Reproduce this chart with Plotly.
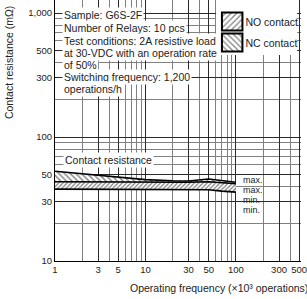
import math
import plotly.graph_objects as go

# ---------------- data ----------------
ops = [1, 2, 3, 5, 10, 20, 30, 50, 70, 100]          # x10^3 operations
nc_max = [53, 50.5, 49, 47.2, 45.3, 44.4, 44.2, 45.8, 44.5, 43.2]
nc_min = [43.2, 43.1, 43.0, 42.9, 42.8, 42.7, 42.7, 43.2, 42.3, 41.8]
no_max = [43.6, 43.5, 43.4, 43.3, 43.2, 43.1, 43.1, 43.6, 42.6, 42.0]
no_min = [38.0, 37.9, 37.8, 37.7, 37.5, 37.4, 37.4, 37.6, 36.6, 35.9]

legend_labels = ["NO contact", "NC contact"]
legend_shapes = ["/", "\\"]
legend_vals = [1, 1]

x_major = [1, 3, 5, 10, 30, 50, 100, 300, 500]
x_major_text = ["1", "3", "5", "10", "30", "50", "100", "300", "500"]
x_minor = [2, 4, 6, 7, 8, 9, 20, 40, 60, 70, 80, 90, 200, 400]
y_major = [10, 30, 50, 100, 300, 500, 1000]
y_major_text = ["10", "30", "50", "100", "300", "500", "1,000"]
y_minor = [20, 40, 60, 70, 80, 90, 200, 400, 600, 700, 800, 900]

info_lines = [
    "Sample: G6S-2F",
    "Number of Relays: 10 pcs",
    "Test conditions: 2A resistive load",
    "at 30-VDC with an operation rate",
    "of 50%",
    "Switching frequency: 1,200",
    "operations/h",
]
edge_labels = ["max.", "max.", "min.", "min."]

# ---------------- layout helpers ----------------
W, H = 307, 299
ML, MB = 55, 38
PW, PH = W - ML, H - MB


def px(x):
    return (x - ML) / PW


def py(y):
    return (PH - y) / PH


FONT = "Liberation Sans, Arial, sans-serif"
TXT = "#222"

fig = go.Figure()

pat_nc = dict(shape="\\", fgcolor="black", bgcolor="white", size=4, solidity=0.35)
pat_no = dict(shape="/", fgcolor="black", bgcolor="white", size=3, solidity=0.4)
line = dict(color="black", width=1.6)

fig.add_trace(go.Scatter(x=ops, y=nc_min, mode="lines", line=line, showlegend=False))
fig.add_trace(go.Scatter(x=ops, y=nc_max, mode="lines", line=line, fill="tonexty",
                         fillpattern=pat_nc, fillcolor="white", showlegend=False))
fig.add_trace(go.Scatter(x=ops, y=no_min, mode="lines", line=line, showlegend=False))
fig.add_trace(go.Scatter(x=ops, y=no_max, mode="lines", line=line, fill="tonexty",
                         fillpattern=pat_no, fillcolor="white", showlegend=False))

# legend built as an inset bar subplot
fig.add_trace(go.Bar(
    orientation="h", y=legend_labels, x=legend_vals, base=0,
    xaxis="x2", yaxis="y2", width=0.86, showlegend=False,
    marker=dict(color="white",
                pattern=dict(shape=legend_shapes, fgcolor="black", bgcolor="white",
                             size=4, solidity=0.3),
                line=dict(color="black", width=2)),
    text=legend_labels, textposition="outside", constraintext="none",
    cliponaxis=False, textfont=dict(family=FONT, size=10.5, color=TXT),
))

annotations = []
info_y = [15, 28, 41, 53, 65, 76.5, 88.5]
for t, yy in zip(info_lines, info_y):
    annotations.append(dict(text=t, x=px(62), y=py(yy), xref="paper", yref="paper",
                            xanchor="left", yanchor="middle", showarrow=False,
                            bgcolor="white", borderpad=1,
                            font=dict(family=FONT, size=10.5, color=TXT)))
annotations.append(dict(text="Contact resistance", x=px(110), y=py(160),
                        xref="paper", yref="paper", xanchor="center", yanchor="middle",
                        showarrow=False, bgcolor="white", borderpad=1,
                        font=dict(family=FONT, size=10.5, color=TXT)))
for t, yy in zip(edge_labels, [179.5, 189.5, 199.5, 209.5]):
    annotations.append(dict(text=t, x=px(246), y=py(yy), xref="paper", yref="paper",
                            xanchor="left", yanchor="middle", showarrow=False,
                            font=dict(family=FONT, size=9, color=TXT)))
annotations.append(dict(text="Contact resistance (mΩ)", x=px(8), y=py(63),
                        xref="paper", yref="paper", xanchor="center", yanchor="middle",
                        textangle=-90, showarrow=False,
                        font=dict(family=FONT, size=10.5, color=TXT)))
annotations.append(dict(text="Operating frequency (×10³ operations)", x=px(130), y=py(288),
                        xref="paper", yref="paper", xanchor="left", yanchor="middle",
                        showarrow=False, font=dict(family=FONT, size=10.5, color=TXT)))

fig.update_layout(
    width=W, height=H,
    margin=dict(l=ML, r=0, t=0, b=MB, pad=0),
    paper_bgcolor="white", plot_bgcolor="white",
    showlegend=False,
    annotations=annotations,
    xaxis=dict(type="log", range=[0, 2.72], domain=[0, 1],
               tickmode="array", tickvals=x_major, ticktext=x_major_text,
               ticklabeloverflow="allow",
               showgrid=True, gridcolor="#2a2a2a", gridwidth=1.1,
               minor=dict(tickmode="array", tickvals=x_minor, showgrid=True,
                          gridcolor="#808080", gridwidth=1, ticks=""),
               showline=True, linecolor="black", linewidth=1, ticks="",
               zeroline=False, tickfont=dict(family=FONT, size=9.5, color=TXT)),
    yaxis=dict(type="log", range=[1, 1 + PH / 124], domain=[0, 1],
               tickmode="array", tickvals=y_major, ticktext=y_major_text,
               showgrid=True, gridcolor="#2a2a2a", gridwidth=1.1,
               minor=dict(tickmode="array", tickvals=y_minor, showgrid=True,
                          gridcolor="#808080", gridwidth=1, ticks=""),
               showline=True, linecolor="black", linewidth=1, ticks="",
               zeroline=False, tickfont=dict(family=FONT, size=9.5, color=TXT)),
    xaxis2=dict(domain=[px(220), px(303)], anchor="y2", range=[-0.286, 3.667],
                visible=False, showgrid=False, zeroline=False, fixedrange=True),
    yaxis2=dict(domain=[py(55), 1], anchor="x2", type="category",
                range=[1.595, -1.024], visible=False, showgrid=False,
                zeroline=False, fixedrange=True),
)

fig.write_html(
    "out.html",
    config={"displayModeBar": False},
    post_script="document.body.style.margin='0px';document.body.style.overflow='hidden';",
)
